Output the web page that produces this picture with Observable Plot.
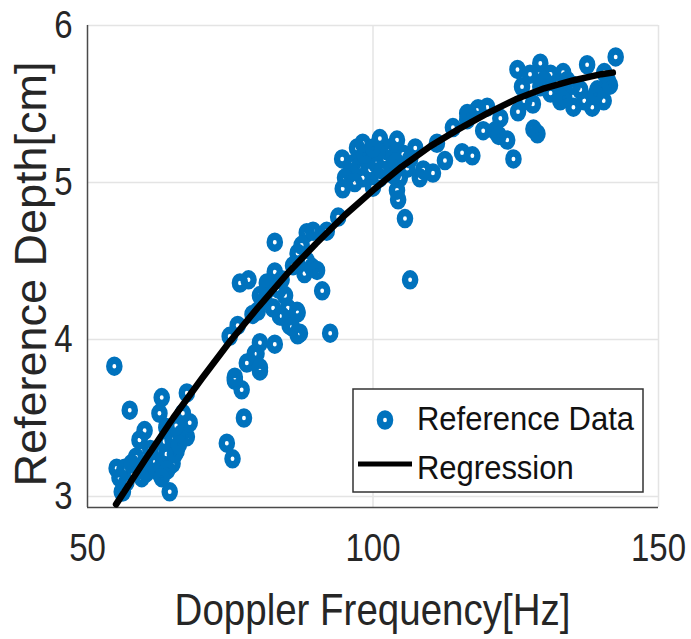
<!DOCTYPE html>
<html><head><meta charset="utf-8">
<script src="https://cdn.jsdelivr.net/npm/d3@7"></script>
<script src="https://cdn.jsdelivr.net/npm/@observablehq/plot@0.6"></script>
<style>body{margin:0;background:#fff}</style>
</head><body><div id="chart"></div>
<script>
// Reference data: Doppler frequency [Hz] and reference depth [cm]
const freq = [
54.7,57.4,63.0,67.4,64.4,74.4,75.4,77.4,75.8,77.0,77.9,80.2,79.6,80.2,82.8,74.9,76.3,92.5,87.2,86.8,85.4,84.0,
55.1,56.5,57.7,56.2,56.8,55.6,60.3,60.0,59.1,61.5,62.6,62.6,63.8,64.9,65.6,66.5,67.4,67.9,66.7,63.8,64.9,63.2,62.1,61.8,60.3,65.3,64.0,63.0,56.0,
58.5,61.0,63.5,65.5,59.5,66.0,
82.8,76.7,78.2,82.8,80.2,81.4,84.6,85.1,86.7,83.7,85.8,86.8,91.1,79.8,78.9,79.3,80.2,75.8,86.8,88.4,89.5,89.3,88.4,90.2,91.9,81.0,83.5,
81.5,82.5,84.0,87.5,86.0,88.0,
94.7,93.9,94.6,97.2,96.5,96.0,98.2,99.1,101.2,102.5,104.2,105.3,107.4,103.3,101.2,104.7,106.0,104.2,104.4,105.6,108.2,110.5,112.6,111.2,114.0,115.6,117.4,116.5,119.3,98.2,95.1,100.0,106.5,108.8,100.5,102.0,99.5,97.5,103.0,
98.5,100.8,103.5,96.8,101.5,106.5,104.0,100.0,
142.5,125.3,129.3,133.3,137.5,126.1,129.3,131.1,135.1,138.4,139.3,141.1,125.4,128.1,128.8,124.6,123.5,121.4,118.2,120.0,122.3,116.5,132.8,127.5,131.1,132.3,140.4,136.3,133.5,118.4,116.7,141.5,140.5,134.0,
128.0,130.0,135.0,137.0,139.0,126.5,122.0
];
const depth = [
3.83,3.55,3.63,3.66,3.03,3.34,3.24,3.50,3.74,3.68,3.85,3.80,3.91,3.98,3.97,4.02,4.09,4.04,4.04,4.17,4.09,4.15,
3.18,3.18,3.21,3.03,3.09,3.12,3.18,3.42,3.36,3.23,3.15,3.53,3.44,3.36,3.29,3.40,3.38,3.47,3.53,3.27,3.21,3.18,3.29,3.22,3.15,3.27,3.17,3.12,3.03,
3.25,3.30,3.35,3.45,3.12,3.33,
4.62,4.36,4.38,4.43,4.28,4.36,4.28,4.20,4.18,4.15,4.08,4.03,4.31,4.18,4.16,3.91,3.82,3.76,4.55,4.68,4.69,4.46,4.50,4.44,4.69,4.25,4.32,
4.32,4.20,4.38,4.60,4.47,4.42,
4.96,4.78,5.15,5.22,5.12,5.06,5.03,5.15,5.28,5.20,5.27,5.18,5.22,5.10,5.03,5.03,5.09,4.95,4.89,4.77,5.03,5.06,5.14,5.25,5.35,5.19,5.17,5.44,5.33,5.25,5.03,4.97,4.38,5.08,5.12,5.15,5.08,5.10,5.22,
5.18,5.20,5.05,5.00,5.08,5.15,5.13,5.22,
5.80,5.72,5.76,5.70,5.75,5.61,5.61,5.57,5.48,5.48,5.59,5.65,5.45,5.34,5.31,5.15,5.27,5.33,5.46,5.48,5.41,5.40,5.52,5.69,5.69,5.63,5.52,5.59,5.54,5.47,5.43,5.62,5.70,5.65,
5.50,5.65,5.62,5.52,5.56,5.52,5.30
];
// Regression curve
const regFreq  = [55,60,65,70,75,80,85,90,95,100,105,110,115,120,125,130,135,140,142];
const regDepth = [2.95,3.23,3.50,3.75,3.99,4.21,4.42,4.61,4.79,4.95,5.10,5.23,5.34,5.44,5.53,5.60,5.65,5.69,5.70];

const xTicks = [50,100,150];
const yTicks = [3,4,5,6];
const xLabel = "Doppler Frequency[Hz]";
const yLabel = "Reference Depth[cm]";
const legendLabels = ["Reference Data","Regression"];

const points = freq.map((f,i)=>({f, d: depth[i]}));
const reg = regFreq.map((f,i)=>({f, d: regDepth[i]}));

const W=691, H=639, mL=87, mR=33, mT=25, mB=132;
const blue = "#0072BD";
const font = "'Liberation Sans', Arial, sans-serif";
const dotScale = "scale(0.85,1)";

const chart = Plot.plot({
  width:W, height:H, marginLeft:mL, marginRight:mR, marginTop:mT, marginBottom:mB,
  style:{fontFamily:font, fontSize:"33px", color:"#262626", background:"#fff", overflow:"visible"},
  x:{domain:[50,150], ticks:xTicks, tickSize:0, tickPadding:27, label:null, tickFormat:d=>String(d)},
  y:{domain:[2.93,6], ticks:yTicks, tickSize:0, tickPadding:15, label:null, tickFormat:d=>String(d)},
  marks:[
    Plot.ruleX(xTicks.slice(1), {stroke:"#e4e4e4", strokeWidth:1.5}),
    Plot.ruleY(yTicks, {stroke:"#e4e4e4", strokeWidth:1.5}),
    Plot.ruleX([50], {stroke:"#4a4a4a", strokeWidth:1.5}),
    Plot.ruleY([2.93], {stroke:"#4a4a4a", strokeWidth:1.5}),
    Plot.dot(points, {x:"f", y:"d", r:6, stroke:blue, strokeWidth:7.5, fill:"none"}),
    Plot.line(reg, {x:"f", y:"d", stroke:"#000", strokeWidth:6.5})
  ]
});
document.getElementById("chart").appendChild(chart);

// the reference is slightly stretched vertically: make the rings a bit taller than wide
d3.select(chart).selectAll("circle").each(function(){
  const c = d3.select(this);
  const x = +c.attr("cx"), y = +c.attr("cy");
  c.attr("cx", 0).attr("cy", 0).attr("transform", `translate(${x},${y}) ${dotScale}`);
});

// stretch tick labels vertically like the reference
d3.select(chart).selectAll("text").each(function(){
  const t = d3.select(this);
  const tr = t.attr("transform");
  if (tr) t.attr("transform", tr + " scale(1,1.15)");
  else {
    const x = +t.attr("x") || 0, y = +t.attr("y") || 0;
    t.attr("x", null).attr("y", null).attr("transform", `translate(${x},${y}) scale(1,1.15)`);
  }
});

const svg = d3.select(chart);
const cx = mL + (W - mL - mR)/2;
svg.append("text").text(xLabel)
  .attr("transform", `translate(${cx},625) scale(1,1.17)`)
  .attr("text-anchor","middle").attr("font-family",font).attr("font-size",38.5).attr("fill","#262626");
svg.append("text").text(yLabel)
  .attr("transform", `translate(46,${mT + (H-mT-mB)/2 + 8}) rotate(-90)`)
  .attr("text-anchor","middle").attr("font-family",font).attr("font-size",45).attr("fill","#262626");

// legend
const lg = svg.append("g").attr("text-anchor","start");
lg.append("rect").attr("x",353).attr("y",389).attr("width",290).attr("height",103)
  .attr("fill","#fff").attr("stroke","#333").attr("stroke-width",1.5);
lg.append("circle").attr("r",6).attr("transform", `translate(385,420) ${dotScale}`)
  .attr("fill","none").attr("stroke",blue).attr("stroke-width",7.5);
lg.append("line").attr("x1",358).attr("x2",412).attr("y1",464).attr("y2",464)
  .attr("stroke","#000").attr("stroke-width",5);
legendLabels.forEach((s,i)=>{
  lg.append("text").text(s)
    .attr("transform", `translate(417,${[430,479][i]}) scale(1,1.05)`)
    .attr("text-anchor","start")
    .attr("font-family",font).attr("font-size",31).attr("fill","#111");
});
</script>
</body></html>
